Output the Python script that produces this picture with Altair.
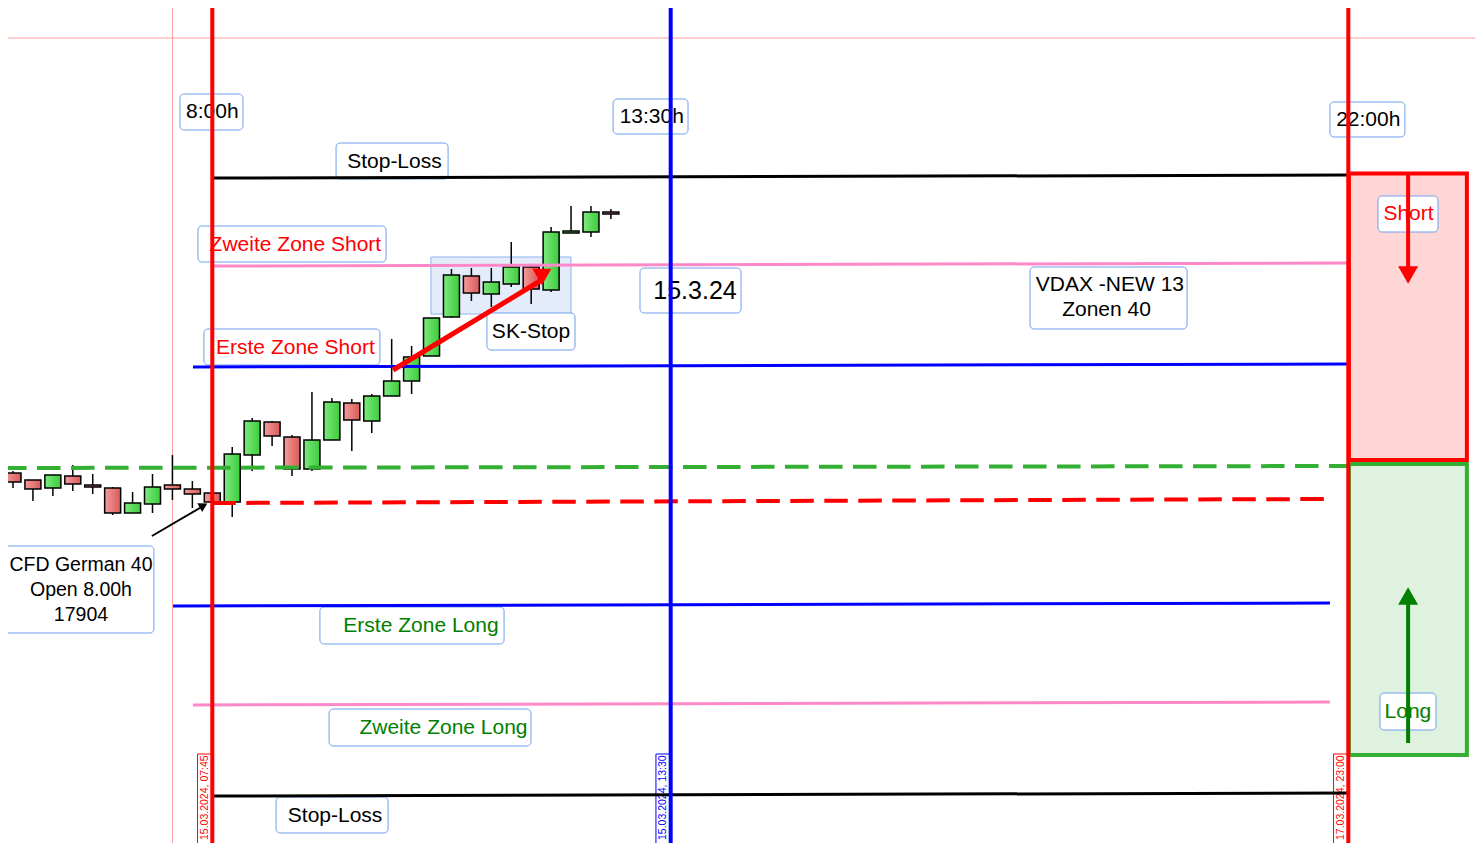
import altair as alt
import pandas as pd

# ---------------- data ----------------
# 15-minute candles, index 0 = first visible bar, index 10 = 07:45 bar
bar_idx = list(range(31))
opens  = [17933, 17926, 17918, 17930, 17921, 17918, 17893, 17902, 17921, 17917, 17913,
          17904, 17951, 17984, 17969, 17937, 17966, 18003, 17985, 18010, 18025,
          18050, 18089, 18130, 18112, 18122, 18139, 18116, 18173, 18174, 18194]
highs  = [17935, 17926, 17931, 17941, 17932, 17919, 17914, 17932, 17951, 17925, 17913,
          17959, 17988, 17985, 17971, 18014, 18008, 18007, 18012, 18067, 18060,
          18088, 18137, 18138, 18138, 18164, 18141, 18179, 18200, 18200, 18197]
lows   = [17918, 17905, 17910, 17915, 17912, 17891, 17893, 17893, 17906, 17898, 17903,
          17889, 17935, 17960, 17930, 17935, 17966, 17955, 17973, 18010, 18012,
          18050, 18088, 18105, 18099, 18119, 18102, 18114, 18173, 18169, 18187]
closes = [17924, 17917, 17931, 17922, 17919, 17893, 17903, 17919, 17917, 17912, 17904,
          17952, 17985, 17970, 17937, 17966, 18004, 17986, 18010, 18025, 18049,
          18088, 18131, 18113, 18124, 18139, 18117, 18174, 18175, 18194, 18192]

# horizontal levels (start bar, end bar, price at start, price at end)
level_names  = ["Stop-Loss", "Zweite Zone Short", "Erste Zone Short", "Vortag",
                "Open 8.00h", "Erste Zone Long", "Zweite Zone Long", "Stop-Loss"]
level_start  = [10, 10, 9.03, -0.5, 10, 8.03, 9.03, 10]
level_end    = [67, 67, 67, 67, 65.83, 66.08, 66.08, 67]
level_p0     = [18228, 18140, 18039, 17938, 17903, 17800, 17701, 17610]
level_p1     = [18231, 18143, 18042, 17940, 17907, 17803, 17704, 17613]
level_color  = ["#000000", "#ff88c8", "#0000ff", "#33b033", "#ff0000", "#0000ff", "#ff88c8", "#000000"]
level_dashed = [False, False, False, True, True, False, False, False]

# vertical time markers
vline_idx   = [10, 33, 67]
vline_color = ["#ff0000", "#0000ff", "#ff0000"]
vline_label = ["15.03.2024, 07:45", "15.03.2024, 13:30", "17.03.2024, 23:00"]

# crosshair
cross_idx = 8
cross_price = 18368

# labels: text, bar position, price, colour, font size
label_text  = ["8:00h", "13:30h", "22:00h", "Stop-Loss", "Zweite Zone Short", "Erste Zone Short",
               "SK-Stop", "15.3.24", "VDAX -NEW 13", "Zonen 40", "CFD German 40", "Open 8.00h",
               "17904", "Erste Zone Long", "Zweite Zone Long", "Stop-Loss", "Short", "Long"]
label_x     = [10.0, 32.05, 68.0, 19.14, 14.17, 14.17, 25.99, 34.22, 55.04, 54.87, 3.41, 3.41,
               3.41, 20.47, 21.6, 16.16, 70.02, 69.99]
label_p     = [18294, 18289, 18286, 18244, 18161, 18058, 18074, 18115, 18121, 18096, 17841, 17816,
               17791, 17780, 17678, 17590, 18192, 17694]
label_color = ["#000000", "#000000", "#000000", "#000000", "#ff0000", "#ff0000", "#000000", "#000000",
               "#000000", "#000000", "#000000", "#000000", "#000000", "#008000", "#008000", "#000000",
               "#ff0000", "#008000"]
label_size  = [21, 21, 21, 21, 21, 21, 21, 25, 21, 21, 19.5, 19.5, 19.5, 21, 21, 21, 21, 21]

# label frames (bar from, bar to, price from, price to)
box_x1 = [8.38, 30.11, 66.08, 16.21, 9.28, 9.58, 23.78, 31.46, 51.03, -1.15, 15.4, 15.86, 13.2, 68.49, 68.59]
box_x2 = [11.54, 33.87, 69.84, 21.83, 18.72, 18.41, 28.2, 36.53, 58.91, 7.07, 24.64, 25.99, 18.82, 71.5, 71.4]
box_p1 = [18276, 18272, 18269, 18227, 18144, 18041, 18056, 18093, 18077, 17773, 17762, 17660, 17573, 18174, 17676]
box_p2 = [18312, 18307, 18304, 18263, 18180, 18077, 18093, 18138, 18139, 17860, 17799, 17697, 17609, 18210, 17713]

# zones on the right and SK-Stop consolidation box
zone_names = ["Short", "Long", "SK"]
zone_x1 = [67.03, 67.03, 20.97]
zone_x2 = [72.95, 72.95, 28.0]
zone_p1 = [18232.5, 17942, 18092]
zone_p2 = [17946, 17651, 18149]

# arrows (from bar/price to bar/price)
arrow_x0 = [19.07, 6.97, 70.0, 70.0]
arrow_p0 = [18036, 17870, 18233, 17663]
arrow_x1 = [26.44, 9.63, 70.0, 70.0]
arrow_p1 = [18125, 17901, 18134, 17806]
arrow_color = ["#ff0000", "#000000", "#ff0000", "#008000"]
arrow_width = [5, 2, 4, 4]
head_x = [26.54, 9.56, 70.0, 70.0]
head_p = [18129, 17900.5, 18131, 17810]
head_shape = ["triangle-down", "triangle-right", "triangle-down", "triangle-up"]
head_angle = [0, 331, 0, 0]
head_size = [361, 100, 400, 400]

# ---------------- chart ----------------
W, H = 1467, 835
XS = alt.Scale(domain=[-0.251, 73.357], nice=False, zero=False, padding=0)
YS = alt.Scale(domain=[17563, 18398], nice=False, zero=False, padding=0)
FONT = "Liberation Sans"


def X(f):
    return alt.X(f, type="quantitative", scale=XS, axis=None)


def Y(f):
    return alt.Y(f, type="quantitative", scale=YS, axis=None)


candles = pd.DataFrame({"i": bar_idx, "o": opens, "h": highs, "l": lows, "c": closes})
candles["up"] = candles["c"] >= candles["o"]

levels = pd.DataFrame({"name": level_names, "x0": level_start, "x1": level_end,
                       "p0": level_p0, "p1": level_p1, "col": level_color, "dash": level_dashed})
vlines = pd.DataFrame({"i": vline_idx, "col": vline_color, "lab": vline_label})
vlines["bx1"] = vlines["i"] - 0.74
vlines["bx2"] = vlines["i"] - 0.04
vlines["bc"] = vlines["i"] - 0.39
vlines["pb1"] = 17540
vlines["pb2"] = 17652
vlines["pt"] = 17566

labels = pd.DataFrame({"t": label_text, "x": label_x, "p": label_p, "col": label_color, "s": label_size})
boxes = pd.DataFrame({"x1": box_x1, "x2": box_x2, "p1": box_p1, "p2": box_p2})
zones = pd.DataFrame({"n": zone_names, "x1": zone_x1, "x2": zone_x2, "p1": zone_p1, "p2": zone_p2})
arrows = pd.DataFrame({"x0": arrow_x0, "p0": arrow_p0, "x1": arrow_x1, "p1": arrow_p1,
                       "col": arrow_color, "w": arrow_width})
heads = pd.DataFrame({"x": head_x, "p": head_p, "shape": head_shape, "ang": head_angle,
                      "sz": head_size, "col": arrow_color})

zone_short = alt.Chart(zones[zones.n == "Short"]).mark_rect(
    fill="#ffd6d6", stroke="#ff0000", strokeWidth=4).encode(x=X("x1"), x2="x2", y=Y("p1"), y2="p2")
zone_long = alt.Chart(zones[zones.n == "Long"]).mark_rect(
    fill="#dff2df", stroke="#33b033", strokeWidth=4).encode(x=X("x1"), x2="x2", y=Y("p1"), y2="p2")
zone_sk = alt.Chart(zones[zones.n == "SK"]).mark_rect(
    fill="#e4ebfb", stroke="#8fb3ef", strokeWidth=1).encode(x=X("x1"), x2="x2", y=Y("p1"), y2="p2")

cross_v = alt.Chart(pd.DataFrame({"i": [cross_idx]})).mark_rule(
    color="#ff9f9f", strokeWidth=1).encode(x=X("i"))
cross_h = alt.Chart(pd.DataFrame({"p": [cross_price]})).mark_rule(
    color="#ff9f9f", strokeWidth=1).encode(y=Y("p"))

wicks = alt.Chart(candles).mark_rule(color="#000000", strokeWidth=1.5).encode(
    x=X("i"), y=Y("l"), y2="h")

green_grad = alt.Gradient(gradient="linear", x1=0, x2=1, y1=0, y2=0,
                          stops=[alt.GradientStop(color="#7eea7e", offset=0),
                                 alt.GradientStop(color="#3ccc3c", offset=1)])
red_grad = alt.Gradient(gradient="linear", x1=0, x2=1, y1=0, y2=0,
                        stops=[alt.GradientStop(color="#f49c9c", offset=0),
                               alt.GradientStop(color="#d85a5a", offset=1)])
bodies_up = alt.Chart(candles[candles.up]).mark_bar(
    size=16, color=green_grad, stroke="#000000", strokeWidth=1.5).encode(x=X("i"), y=Y("o"), y2="c")
bodies_dn = alt.Chart(candles[~candles.up]).mark_bar(
    size=16, color=red_grad, stroke="#000000", strokeWidth=1.5).encode(x=X("i"), y=Y("o"), y2="c")

box_layer = alt.Chart(boxes).mark_rect(
    fill="#ffffff", stroke="#6f9fef", strokeWidth=1, cornerRadius=4).encode(
    x=X("x1"), x2="x2", y=Y("p1"), y2="p2")
text_layer = alt.Chart(labels).mark_text(font=FONT, align="center", baseline="middle").encode(
    x=X("x"), y=Y("p"), text="t:N",
    color=alt.Color("col:N", scale=None), size=alt.Size("s:Q", scale=None))

vbox = alt.Chart(vlines).mark_rect(fill="#ffffff", strokeWidth=1).encode(
    x=X("bx1"), x2="bx2", y=Y("pb1"), y2="pb2", stroke=alt.Color("col:N", scale=None))
vtext = alt.Chart(vlines).mark_text(font=FONT, fontSize=10.5, angle=270, align="left",
                                    baseline="middle").encode(
    x=X("bc"), y=Y("pt"), text="lab:N", color=alt.Color("col:N", scale=None))

solid = alt.Chart(levels[~levels.dash]).mark_rule(strokeWidth=3).encode(
    x=X("x0"), x2="x1", y=Y("p0"), y2="p1", color=alt.Color("col:N", scale=None))
dashed = alt.Chart(levels[levels.dash]).mark_rule(strokeWidth=4, strokeDash=[23.5, 10.5]).encode(
    x=X("x0"), x2="x1", y=Y("p0"), y2="p1", color=alt.Color("col:N", scale=None))

vrules = alt.Chart(vlines).mark_rule(strokeWidth=4).encode(
    x=X("i"), color=alt.Color("col:N", scale=None))

arrow_lines = alt.Chart(arrows).mark_rule(strokeCap="butt").encode(
    x=X("x0"), x2="x1", y=Y("p0"), y2="p1",
    color=alt.Color("col:N", scale=None), strokeWidth=alt.StrokeWidth("w:Q", scale=None))
arrow_heads = alt.Chart(heads).mark_point(filled=True, opacity=1, strokeWidth=0).encode(
    x=X("x"), y=Y("p"), shape=alt.Shape("shape:N", scale=None),
    angle=alt.Angle("ang:Q", scale=None), size=alt.Size("sz:Q", scale=None),
    color=alt.Color("col:N", scale=None))

chart = alt.layer(
    zone_short, zone_long, zone_sk, cross_v, cross_h, wicks, bodies_up, bodies_dn,
    box_layer, text_layer, vbox, vtext, solid, dashed, vrules, arrow_lines, arrow_heads
).properties(
    width=W, height=H, padding=0, autosize="none", background="#ffffff"
).configure_view(stroke=None)

chart.save("out.html", embed_options={"renderer": "svg", "actions": False})
